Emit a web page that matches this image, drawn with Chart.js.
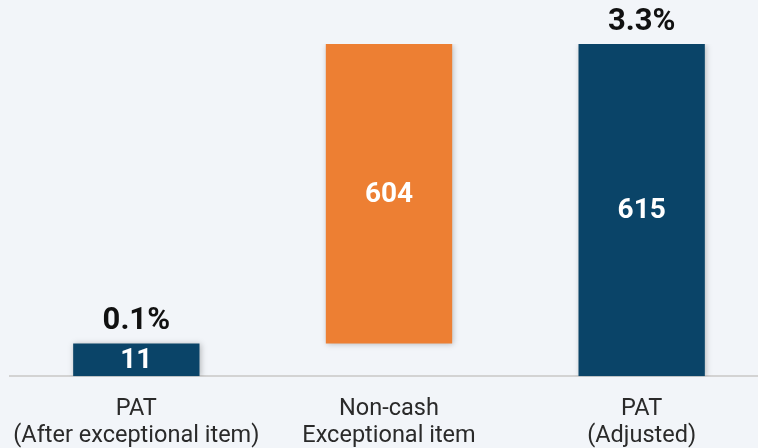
<!DOCTYPE html>
<html>
<head>
<meta charset="utf-8">
<script src="https://cdn.jsdelivr.net/npm/chart.js@4"></script>
<style>
  html, body { margin: 0; padding: 0; background: #f2f5f9; overflow: hidden; }
  #wrap { position: relative; width: 768px; height: 469px; }
</style>
</head>
<body>
<div id="wrap"><canvas id="chart"></canvas></div>
<script>
const categories = [['PAT', '(After exceptional item)'], ['Non-cash', 'Exceptional item'], ['PAT', '(Adjusted)']]
const values = [11, 604, 615]
const margins = ['0.1%', '', '3.3%']
// bar extents as drawn in the picture (first bar is drawn taller than scale)
const barStart = [0, 61, 0]
const barEnd = [61, 615, 615]
const barColors = ['#0a4468', '#ed7f33', '#0a4468']

const barShadow = {
  id: 'barShadow',
  beforeDatasetDraw(chart) {
    const ctx = chart.ctx
    ctx.save()
    ctx.shadowColor = 'rgba(0, 0, 0, 0.25)'
    ctx.shadowBlur = 6
    ctx.shadowOffsetX = 1
    ctx.shadowOffsetY = 1
  },
  afterDatasetDraw(chart) {
    chart.ctx.restore()
  },
}

const barLabels = {
  id: 'barLabels',
  afterDatasetsDraw(chart) {
    const ctx = chart.ctx
    const meta = chart.getDatasetMeta(0)
    ctx.save()
    ctx.textAlign = 'center'
    meta.data.forEach((bar, i) => {
      const top = Math.min(bar.y, bar.base)
      const bottom = Math.max(bar.y, bar.base)
      ctx.fillStyle = '#ffffff'
      ctx.textBaseline = 'middle'
      ctx.font = 'bold 28px Roboto'
      ctx.fillText(String(values[i]), bar.x, (top + bottom) / 2 + 1)
      if (margins[i]) {
        ctx.fillStyle = '#111111'
        ctx.textBaseline = 'alphabetic'
        ctx.font = 'bold 31px Roboto'
        ctx.fillText(margins[i], bar.x, top - 14)
      }
    })
    ctx.restore()
  },
}

new Chart(document.getElementById('chart'), {
  type: 'bar',
  data: {
    labels: categories,
    datasets: [
      {
        data: barStart.map((s, i) => [s, barEnd[i]]),
        backgroundColor: barColors,
        barPercentage: 0.5,
        categoryPercentage: 1,
      },
    ],
  },
  options: {
    responsive: true,
    maintainAspectRatio: false,
    animation: false,
    layout: { padding: { top: 44, left: 10, right: 0, bottom: 0 } },
    plugins: {
      legend: { display: false },
      tooltip: { enabled: false },
    },
    scales: {
      x: {
        grid: { display: false, drawTicks: false },
        border: { display: true, color: '#d3d3d3', width: 2 },
        ticks: {
          color: '#2a2a2a',
          font: { family: 'Roboto', size: 23.5, lineHeight: 1.12 },
          padding: 20,
          maxRotation: 0,
          autoSkip: false,
        },
        afterFit(scale) {
          scale.paddingLeft = 0
          scale.paddingRight = 0
        },
      },
      y: {
        display: false,
        min: 0,
        max: 615,
      },
    },
  },
  plugins: [barShadow, barLabels],
})
</script>
</body>
</html>
